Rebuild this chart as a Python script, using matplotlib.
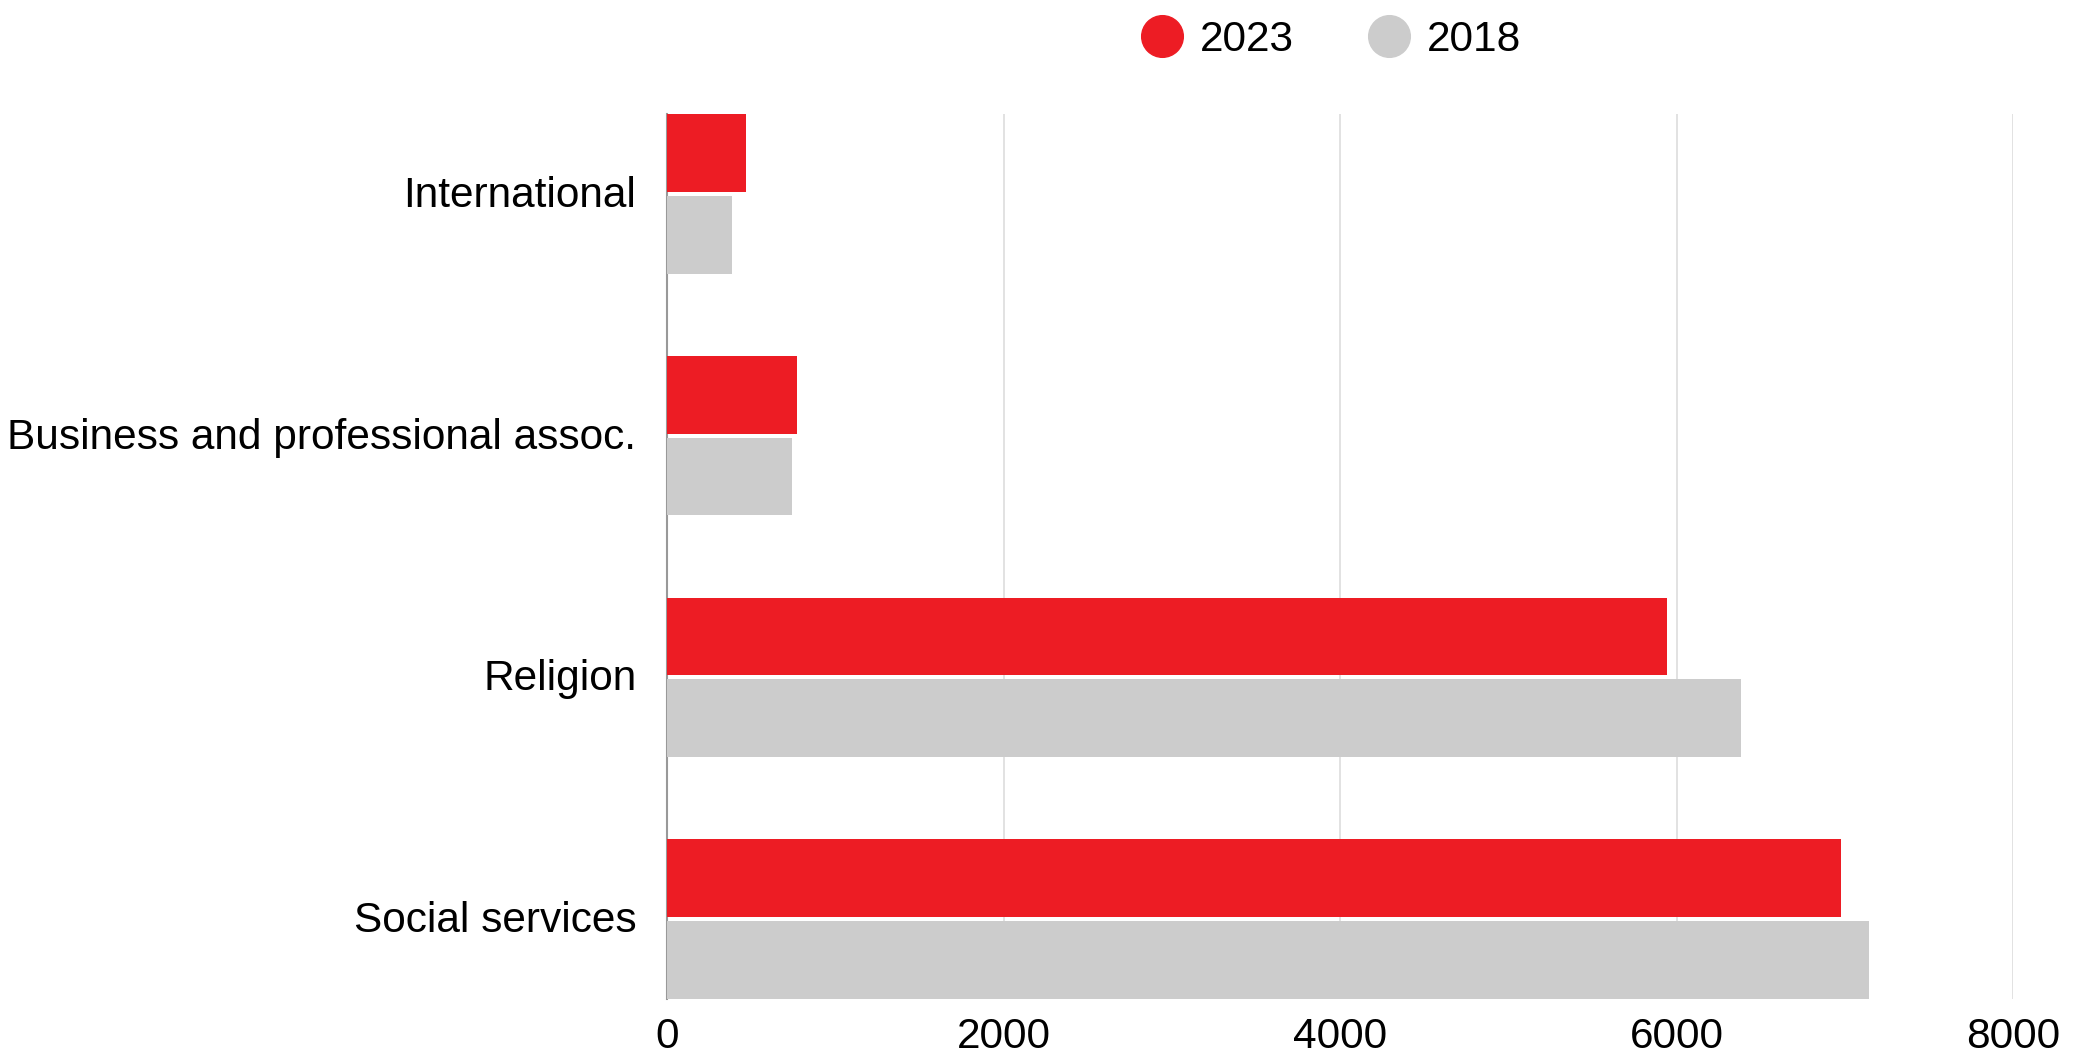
import numpy as np
import matplotlib.pyplot as plt
from matplotlib.lines import Line2D

plt.rcParams['font.family'] = ['Liberation Sans', 'DejaVu Sans']

# categories from bottom to top
categories = ['Social services', 'Religion', 'Business and professional assoc.', 'International']
values_2023 = [6980, 5945, 773, 470]
values_2018 = [7147, 6386, 743, 387]

red = '#ed1c24'
grey = '#cccccc'
fs = 30.5

fig = plt.figure(figsize=(20.78, 10.53), dpi=100)
ax = fig.add_axes([667 / 2078, 1 - 999 / 1053, (2013 - 667) / 2078, (999 - 114) / 1053])

y = np.arange(len(categories))
h = 0.322
off = 0.169
ax.barh(y + off, values_2023, height=h, color=red, zorder=3)
ax.barh(y - off, values_2018, height=h, color=grey, zorder=3)

ax.set_xlim(0, 8000)
ax.set_ylim(-off - h / 2, len(categories) - 1 + off + h / 2)
ax.set_xticks([0, 2000, 4000, 6000, 8000])
ax.set_yticks(y + 0.01)
ax.set_yticklabels(categories)
ax.tick_params(axis='both', length=0, labelsize=fs)
ax.tick_params(axis='y', pad=22)
ax.tick_params(axis='x', pad=13)

ax.grid(axis='x', color='#dddddd', linewidth=1.2, zorder=0)
ax.set_axisbelow(True)
for s in ['top', 'right', 'bottom']:
    ax.spines[s].set_visible(False)
ax.spines['left'].set_color('#999999')
ax.spines['left'].set_linewidth(1.5)
ax.spines['left'].set_zorder(1)

handles = [Line2D([], [], marker='o', linestyle='', markersize=30, color=red, label='2023'),
           Line2D([], [], marker='o', linestyle='', markersize=30, color=grey, label='2018')]
fig.legend(handles=handles, loc='center', bbox_to_anchor=(1329 / 2078, 1 - 40 / 1053),
           ncol=2, frameon=False, fontsize=fs, handletextpad=0.3, columnspacing=1.65,
           handlelength=1.2)

fig.savefig('out.png', dpi=100)
